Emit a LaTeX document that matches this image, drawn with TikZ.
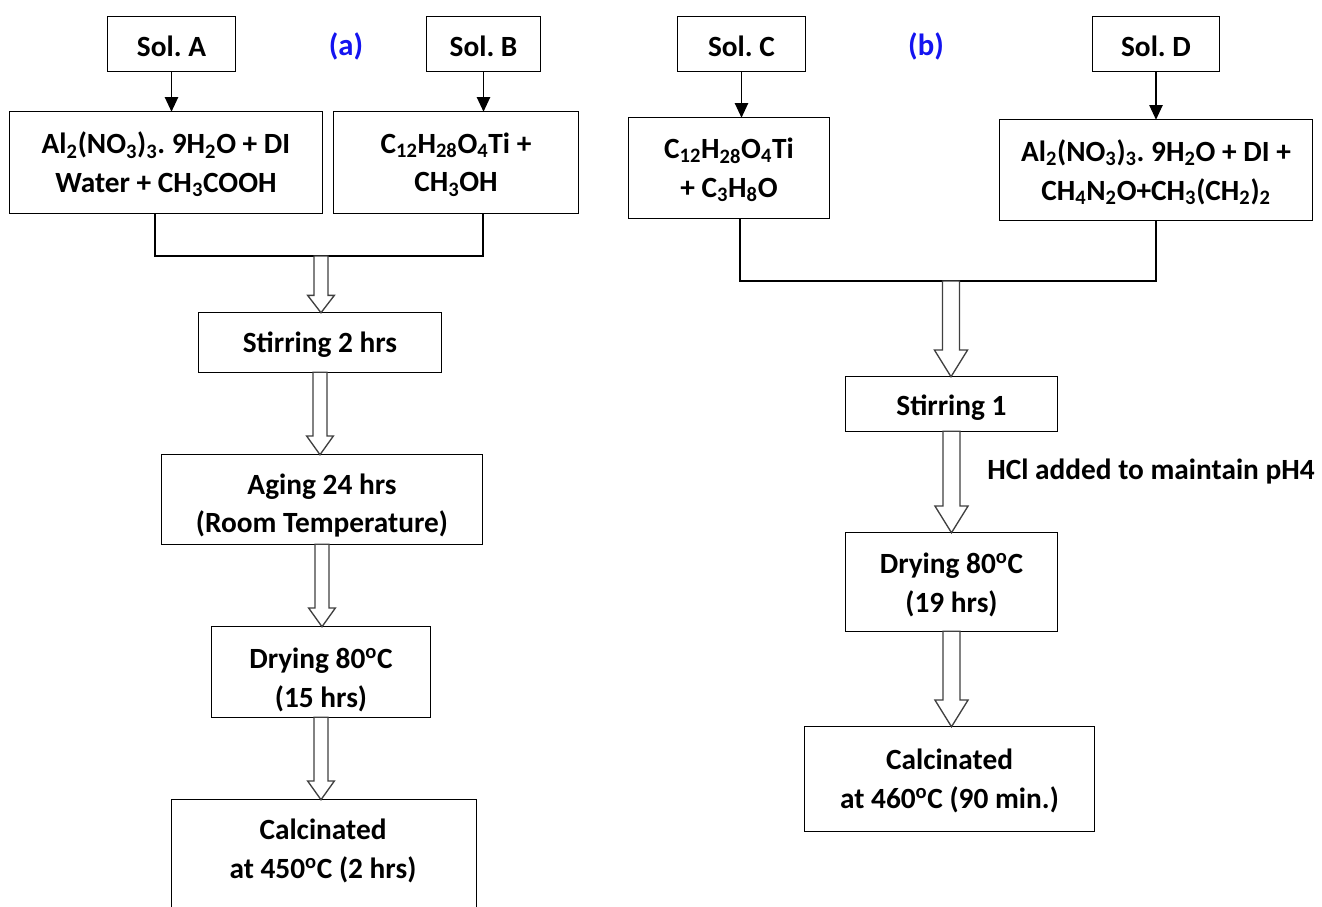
\documentclass[tikz,border=0pt]{standalone}
\usepackage{fontspec}
\setmainfont{Carlito}
\usetikzlibrary{calc,arrows.meta}
\frenchspacing
\definecolor{lblblue}{RGB}{20,20,240}
\newcommand\fatarr[5]{%
 \draw[fatarrow] let \p1=(#1), \p2=(#2) in
 (\x1-#3,\y1) -- (\x1-#3,\y2+#5) -- (\x1-#4,\y2+#5) -- (\x1,\y2) -- (\x1+#4,\y2+#5) -- (\x1+#3,\y2+#5) -- (\x1+#3,\y1) -- cycle;}
% \bx{name}{x}{y}{width pt}{height pt}{text dy px}{text}
\newcommand\bx[7]{%
 \node[box, minimum width=#4, minimum height=#5] (#1) at (#2,#3) {};
 \begin{scope}
  \clip (#1.north west) rectangle (#1.south east);
  \node[txt] (#1T) at ($(#1)+(0,#6)$) {#7};
 \end{scope}
 \draw[boxline] (#1.north west) rectangle (#1.south east);}
\tikzset{
  box/.style={inner sep=0pt, fill=white},
  boxline/.style={draw=black, line width=0.9pt},
  txt/.style={inner sep=0pt, align=center, font=\fontsize{22}{29}\selectfont\bfseries},
  thinarrow/.style={draw=black, line width=1pt, -{Triangle[width=10pt,length=11pt]}},
  joinline/.style={draw=black, line width=1pt},
  fatarrow/.style={draw=black!75, line width=1pt, fill=white, line join=miter}
}
\begin{document}
\begin{tikzpicture}[x=0.75pt,y=-0.75pt]
\fill[white] (0,0) rectangle (1322,907);
\useasboundingbox (0,0) rectangle (1322,907);

% ---------- (a) ----------
\bx{sA}{171.5}{44}{95.25pt}{40.5pt}{2}{Sol. A}
\bx{sB}{483.5}{44}{84.75pt}{40.5pt}{2}{Sol. B}
\node[txt, text=lblblue, font=\fontsize{23}{29}\selectfont\bfseries] (la) at (346,46) {(a)};
\bx{A2}{166}{162.5}{234pt}{75.75pt}{2}
  {Al\textsubscript{2}(NO\textsubscript{3})\textsubscript{3}. 9H\textsubscript{2}O + DI\\Water + CH\textsubscript{3}COOH}
\bx{B2}{456}{162.5}{183pt}{75.75pt}{2}
  {C\textsubscript{12}H\textsubscript{28}O\textsubscript{4}Ti +\\CH\textsubscript{3}OH}
\bx{st2}{320}{342.5}{182.25pt}{44.25pt}{2}{Stirring 2 hrs}
\bx{age}{322}{499.5}{240pt}{66.75pt}{6}{Aging 24 hrs\\(Room Temperature)}
\bx{dry}{321}{672}{163.5pt}{67.5pt}{8}{Drying 80\textsuperscript{o}C\\(15 hrs)}
\node[box, minimum width=228pt, minimum height=105pt] (calA) at (324,870) {};
\draw[boxline] (calA.north west) rectangle (calA.south east);
\node[txt] (calAt) at (323,851) {Calcinated\\at 450\textsuperscript{o}C (2 hrs)};

\draw[thinarrow] (sA.south) -- (sA.south |- A2.north);
\draw[thinarrow] (sB.south) -- (sB.south |- B2.north);
\coordinate (jA) at (321,256);
\draw[joinline] ($(A2.south)+(-11,0)$) |- (jA) -| ($(B2.south)+(27,0)$);
\fatarr{jA}{st2.north}{5.25pt}{10pt}{13pt}
\fatarr{st2.south}{age.north}{5.25pt}{10pt}{14pt}
\fatarr{age.south}{dry.north}{5.25pt}{10pt}{14pt}
\fatarr{dry.south}{calA.north}{5.25pt}{10pt}{14pt}

% ---------- (b) ----------
\bx{sC}{741.5}{44}{95.25pt}{40.5pt}{2}{Sol. C}
\bx{sD}{1156}{44}{94.5pt}{40.5pt}{2}{Sol. D}
\node[txt, text=lblblue, font=\fontsize{23}{29}\selectfont\bfseries] (lb) at (926,46) {(b)};
\bx{C2}{729}{168}{150pt}{75pt}{2}
  {C\textsubscript{12}H\textsubscript{28}O\textsubscript{4}Ti\\+ C\textsubscript{3}H\textsubscript{8}O}
\bx{D2}{1156}{170}{234pt}{75pt}{2}
  {Al\textsubscript{2}(NO\textsubscript{3})\textsubscript{3}. 9H\textsubscript{2}O + DI +\\CH\textsubscript{4}N\textsubscript{2}O+CH\textsubscript{3}(CH\textsubscript{2})\textsubscript{2}}
\bx{st1}{951.5}{404}{158.25pt}{40.5pt}{4}{Stirring 1}
\bx{dry1}{951.5}{582}{158.25pt}{73.5pt}{3}{Drying 80\textsuperscript{o}C\\(19 hrs)}
\bx{cal1}{949.5}{779}{216.75pt}{78pt}{2}{Calcinated\\at 460\textsuperscript{o}C (90 min.)}
\node[txt, anchor=west] (hcl) at (987,472) {HCl added to maintain pH4};

\draw[thinarrow] (sC.south) -- (sC.south |- C2.north);
\draw[thinarrow] (sD.south) -- (sD.south |- D2.north);
\coordinate (jB) at (951,281);
\draw[joinline] ($(C2.south)+(11,0)$) |- (jB) -| (D2.south);
\fatarr{jB}{st1.north}{6.4pt}{12.4pt}{20pt}
\fatarr{st1.south}{dry1.north}{6.4pt}{12.4pt}{20pt}
\fatarr{dry1.south}{cal1.north}{6.4pt}{12.4pt}{20pt}
\end{tikzpicture}
\end{document}
